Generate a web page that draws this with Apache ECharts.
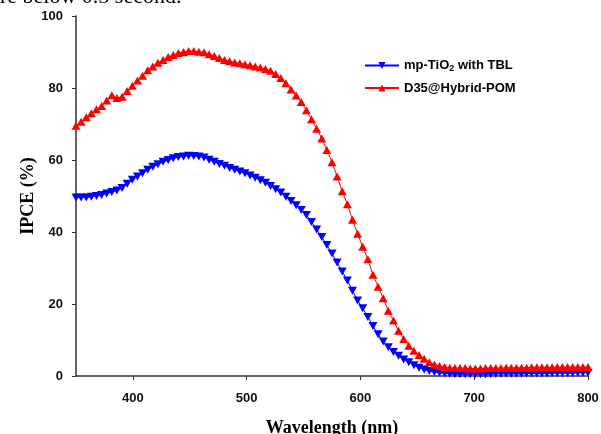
<!DOCTYPE html>
<html>
<head>
<meta charset="utf-8">
<script src="https://cdn.jsdelivr.net/npm/echarts@6/dist/echarts.min.js"></script>
<style>
html,body{margin:0;padding:0;background:#fff;}
#chart{width:601px;height:434px;}
</style>
</head>
<body>
<div id="chart"></div>
<script>
var wavelengths = [350, 354.5, 359, 363.5, 368, 372.5, 377, 381.5, 386, 390.5, 395, 399.5, 404, 408.5, 413, 417.5, 422, 426.5, 431, 435.5, 440, 444.5, 449, 453.5, 458, 462.5, 467, 471.5, 476, 480.5, 485, 489.5, 494, 498.5, 503, 507.5, 512, 516.5, 521, 525.5, 530, 534.5, 539, 543.5, 548, 552.5, 557, 561.5, 566, 570.5, 575, 579.5, 584, 588.5, 593, 597.5, 602, 606.5, 611, 615.5, 620, 624.5, 629, 633.5, 638, 642.5, 647, 651.5, 656, 660.5, 665, 669.5, 674, 678.5, 683, 687.5, 692, 696.5, 701, 705.5, 710, 714.5, 719, 723.5, 728, 732.5, 737, 741.5, 746, 750.5, 755, 759.5, 764, 768.5, 773, 777.5, 782, 786.5, 791, 795.5, 800];

var blueVals = [49.6, 49.6, 49.6, 49.8, 50.0, 50.3, 50.7, 51.1, 51.5, 52.2,
  53.4, 54.5, 55.4, 56.3, 57.3, 58.1, 58.8, 59.5, 60.0, 60.5,
  60.8, 61.0, 61.2, 61.1, 61.0, 60.7, 60.1, 59.5, 58.9, 58.4,
  57.8, 57.3, 56.8, 56.3, 55.7, 55.1, 54.4, 53.7, 52.8, 51.9,
  51.0, 49.8, 48.6, 47.4, 46.1, 44.7, 42.8, 40.7, 38.6, 36.4,
  34.0, 31.5, 29.0, 26.5, 23.7, 21.0, 18.8, 16.4, 13.9, 11.6,
  9.6, 8.0, 6.7, 5.6, 4.6, 3.8, 3.0, 2.3, 1.8, 1.4,
  1.1, 0.9, 0.7, 0.6, 0.5,
  0.5, 0.5, 0.5, 0.5, 0.5, 0.5, 0.5, 0.6, 0.6, 0.6,
  0.6, 0.6, 0.6, 0.7, 0.7, 0.7, 0.7, 0.7, 0.8, 0.8,
  0.8, 0.8, 0.8, 0.9, 0.9, 0.9];

var redVals = [69.5, 70.6, 71.9, 73.0, 74.1, 75.0, 76.5, 78.0, 77.2, 77.6,
  79.2, 80.6, 82.1, 83.4, 84.9, 86.0, 87.0, 87.8, 88.6, 89.2,
  89.7, 90.0, 90.3, 90.3, 90.1, 89.9, 89.4, 88.9, 88.3, 87.8,
  87.4, 87.1, 86.9, 86.6, 86.3, 86.0, 85.7, 85.3, 84.8, 83.9,
  82.8, 81.3, 79.6, 77.9, 76.1, 73.8, 71.3, 68.7, 66.0, 62.8,
  59.4, 55.4, 51.3, 47.7, 43.4, 39.5, 35.9, 32.4, 28.1, 24.8,
  21.6, 18.1, 15.4, 12.6, 10.3, 8.4, 7.0, 5.8, 4.8, 3.8,
  3.2, 2.8, 2.5, 2.3, 2.2,
  2.2, 2.2, 2.1, 2.1, 2.1, 2.2, 2.2, 2.2, 2.2, 2.3,
  2.3, 2.3, 2.3, 2.3, 2.4, 2.4, 2.4, 2.4, 2.4, 2.5,
  2.5, 2.5, 2.5, 2.5, 2.5, 2.5];

var seriesNames = ['mp-TiO2 with TBL', 'D35@Hybrid-POM'];
var xTicks = [400, 500, 600, 700, 800];
var yTicks = [0, 20, 40, 60, 80, 100];
var xTitle = 'Wavelength (nm)';
var yTitle = 'IPCE (%)';
var topText = 're below 0.5 second.';

function pairs(xs, ys) {
  var out = [];
  for (var i = 0; i < xs.length; i++) out.push([xs[i], ys[i]]);
  return out;
}

var chart = echarts.init(document.getElementById('chart'), null, {renderer: 'canvas'});
var labelFont = {fontFamily: 'Liberation Sans, Arial', fontWeight: 'bold', fontSize: 13, color: '#111'};
var axisColor = '#333';
var titleFont = {fontFamily: 'Liberation Serif, Times New Roman', fontWeight: 'bold', fontSize: 18, color: '#000'};

chart.setOption({
  animation: false,
  backgroundColor: '#fff',
  grid: {left: 76, right: 13, top: 16, bottom: 58, containLabel: false, outerBoundsMode: 'none'},
  graphic: [{
    type: 'text', left: 0, top: -14,
    style: {text: topText, font: '22px "Liberation Serif", "Times New Roman", serif', fill: '#000'}
  }],
  legend: {
    data: seriesNames,
    orient: 'vertical',
    left: 359, top: 54,
    itemWidth: 34, itemHeight: 9, itemGap: 8,
    formatter: function (name) {
      return name === seriesNames[0] ? '{a|mp-TiO}{s|2}{a| with TBL}' : '{a|' + name + '}';
    },
    textStyle: {
      rich: {
        a: {fontFamily: 'Liberation Sans, Arial', fontWeight: 'bold', fontSize: 13, color: '#000'},
        s: {fontFamily: 'Liberation Sans, Arial', fontWeight: 'bold', fontSize: 9, color: '#000', padding: [7, 0, 0, 0]}
      }
    }
  },
  xAxis: {
    type: 'value', min: 350, max: 800,
    name: xTitle, nameLocation: 'middle', nameGap: 43, nameMoveOverlap: false,
    nameTextStyle: titleFont,
    axisLine: {show: true, onZero: false, lineStyle: {color: axisColor, width: 1.5}},
    axisTick: {show: true, length: 4, customValues: xTicks, lineStyle: {color: axisColor, width: 1}},
    axisLabel: Object.assign({customValues: xTicks, margin: 16}, labelFont),
    splitLine: {show: false}
  },
  yAxis: {
    type: 'value', min: 0, max: 100, interval: 20,
    name: yTitle, nameLocation: 'middle', nameGap: 39, nameRotate: 90, nameMoveOverlap: false,
    nameTextStyle: titleFont,
    axisLine: {show: true, lineStyle: {color: axisColor, width: 1.5}},
    axisTick: {show: true, length: 4, customValues: yTicks, lineStyle: {color: axisColor, width: 1}},
    axisLabel: Object.assign({customValues: yTicks, margin: 13}, labelFont),
    splitLine: {show: false}
  },
  series: [{
    name: seriesNames[0], type: 'line',
    data: pairs(wavelengths, blueVals),
    symbol: 'triangle', symbolRotate: 180, symbolSize: [9, 8],
    itemStyle: {color: '#0000ff'},
    lineStyle: {color: '#0000ff', width: 1},
    clip: false, z: 2
  }, {
    name: seriesNames[1], type: 'line',
    data: pairs(wavelengths, redVals),
    symbol: 'triangle', symbolSize: [9, 8],
    itemStyle: {color: '#ff0000'},
    lineStyle: {color: '#ff0000', width: 1},
    clip: false, z: 3
  }]
});
</script>
</body>
</html>
